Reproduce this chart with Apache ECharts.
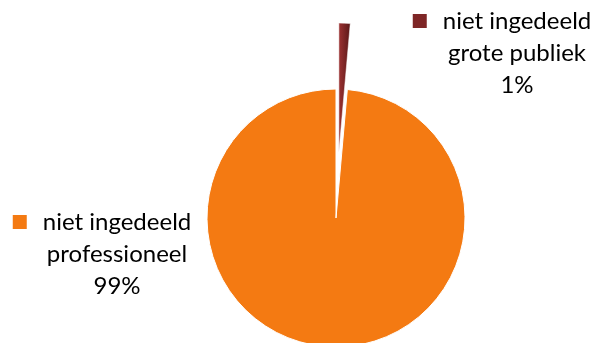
<!DOCTYPE html>
<html>
<head>
<meta charset="utf-8">
<script src="https://cdn.jsdelivr.net/npm/echarts@6/dist/echarts.min.js"></script>
<style>html,body{margin:0;padding:0;background:#fff}#c{width:600px;height:343px}</style>
</head>
<body>
<div id="c"></div>
<script>
const categories = ['niet ingedeeld\ngrote publiek', 'niet ingedeeld\nprofessioneel'];
const values = [1.4, 98.6];
const colors = ['#7E2626', '#F47A12'];
const labelPos = [{x: 517, y: 5}, {x: 117, y: 206}];

const chart = echarts.init(document.getElementById('c'), null, {renderer: 'canvas'});
const FONT = 'Lato';
const FS = 24;
const total = values.reduce(function (a, b) { return a + b; }, 0);

function labelText(i) {
  const lines = categories[i].split('\n');
  return '{sq|}{sp|}{t|' + lines[0] + '}{pad|}\n{t|' + lines[1] + '}\n{t|' + Math.round(values[i] / total * 100) + '%}';
}
function richFor(i) {
  return {
    sq: {width: 14, height: 14, backgroundColor: colors[i]},
    sp: {width: 16},
    pad: {width: 30},
    t: {fontFamily: FONT, fontSize: FS, fill: '#000', color: '#000', lineHeight: 32}
  };
}

chart.setOption({
  animation: false,
  graphic: values.map(function (v, i) {
    return {
      type: 'text',
      x: labelPos[i].x,
      y: labelPos[i].y,
      silent: true,
      style: {
        text: labelText(i),
        rich: richFor(i),
        font: FS + 'px ' + FONT,
        fill: '#000',
        align: 'center',
        textAlign: 'center',
        verticalAlign: 'top',
        textVerticalAlign: 'top',
        lineHeight: 32
      }
    };
  }),
  series: [{
    type: 'pie',
    center: [336, 218],
    radius: 129,
    startAngle: 90,
    clockwise: true,
    selectedMode: 'single',
    selectedOffset: 66,
    label: {show: false},
    labelLine: {show: false},
    emphasis: {disabled: true},
    data: values.map(function (v, i) {
      return {
        name: categories[i],
        value: v,
        selected: i === 0,
        itemStyle: i === 0 ? {
          color: {type: 'linear', x: 0, y: 0, x2: 1, y2: 0, colorStops: [
            {offset: 0, color: '#9C3232'}, {offset: 0.5, color: '#7B2525'}, {offset: 1, color: '#581818'}]},
          borderColor: '#fff', borderWidth: 0.5
        } : {color: colors[i], borderColor: '#fff', borderWidth: 1},
        select: {itemStyle: i === 0 ? {} : {color: colors[i]}}
      };
    })
  }]
});
</script>
</body>
</html>
